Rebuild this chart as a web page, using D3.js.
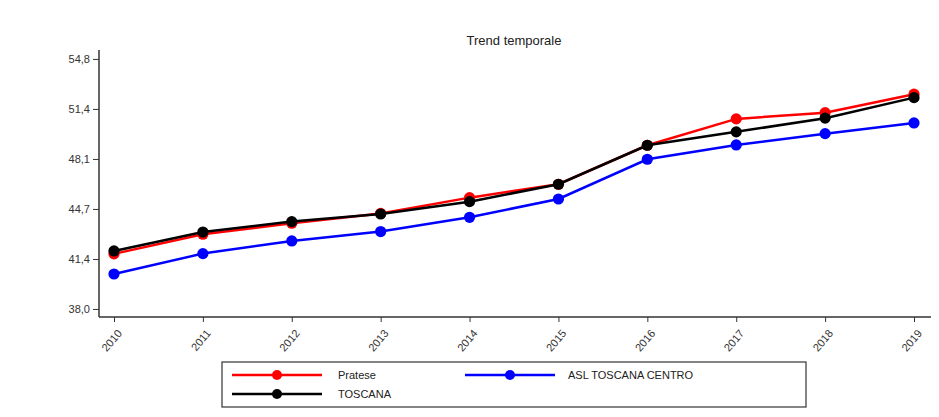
<!DOCTYPE html>
<html><head><meta charset="utf-8">
<script src="https://cdn.jsdelivr.net/npm/d3@7"></script>
<style>body{margin:0;background:#fff;} svg{display:block;font-family:"Liberation Sans",Arial,sans-serif;}</style>
</head><body>
<svg id="c" width="939" height="417"></svg>
<script>
const years = [2010,2011,2012,2013,2014,2015,2016,2017,2018,2019];
const pratese = [41.70,43.02,43.76,44.42,45.48,46.38,49.00,50.77,51.19,52.43];
const aslCentro = [40.35,41.72,42.57,43.20,44.16,45.39,48.06,49.02,49.78,50.50];
const toscana = [41.90,43.17,43.87,44.38,45.21,46.38,49.00,49.90,50.82,52.20];
const yTicks = [38.0,41.36,44.72,48.08,51.44,54.8];
const seriesNames = ["Pratese","ASL TOSCANA CENTRO","TOSCANA"];
const seriesColors = ["#ff0000","#0000ff","#000000"];

const svg = d3.select("#c");
const x = d3.scalePoint().domain(years).range([114,914]);
const y = d3.scaleLinear().domain([37.46,55.4]).range([317,50]);
const fmt = v => d3.format(".1f")(v).replace(".", ",");

// title
svg.append("text").attr("x",514).attr("y",45).attr("text-anchor","middle")
  .attr("font-size",13).attr("fill","#222").text("Trend temporale");

// y axis
const ya = svg.append("g").attr("transform","translate(99,0)")
  .call(d3.axisLeft(y).tickValues(yTicks).tickFormat(fmt).tickSize(6).tickPadding(3));
ya.select(".domain").attr("d","M0,50V317").attr("stroke","#333").attr("stroke-width",1.5);
ya.selectAll(".tick line").attr("stroke","#333");
ya.selectAll(".tick text").attr("font-size",11).attr("fill","#333").attr("font-family","Liberation Sans, Arial, sans-serif");

// x axis
const xa = svg.append("g").attr("transform","translate(0,317)")
  .call(d3.axisBottom(x).tickSize(5).tickSizeOuter(0));
xa.select(".domain").attr("d","M99,0H931").attr("stroke","#333").attr("stroke-width",1.5);
xa.selectAll(".tick line").attr("stroke","#333");
xa.selectAll(".tick text").attr("font-size",11).attr("fill","#333")
  .attr("font-family","Liberation Sans, Arial, sans-serif")
  .attr("text-anchor","end").attr("dy","0.35em")
  .attr("transform","translate(-1,9) rotate(-50)");

// series (draw order: red, blue, black on top)
const allData = [pratese, aslCentro, toscana];
const line = d3.line().x((d,i)=>x(years[i])).y(d=>y(d));
allData.forEach((vals,k)=>{
  const g = svg.append("g");
  g.append("path").datum(vals).attr("d",line).attr("fill","none")
    .attr("stroke",seriesColors[k]).attr("stroke-width",2.5);
  g.selectAll("circle").data(vals).join("circle")
    .attr("cx",(d,i)=>x(years[i])).attr("cy",d=>y(d)).attr("r",5.6)
    .attr("fill",seriesColors[k]);
});

// legend
const lg = svg.append("g");
lg.append("rect").attr("x",222).attr("y",362).attr("width",584).attr("height",45)
  .attr("fill","#fff").attr("stroke","#333").attr("stroke-width",1.2);
const legPos = [{x1:232,y:375,tx:338},{x1:465,y:375,tx:568},{x1:232,y:394,tx:338}];
legPos.forEach((p,k)=>{
  lg.append("line").attr("x1",p.x1).attr("x2",p.x1+90).attr("y1",p.y).attr("y2",p.y)
    .attr("stroke",seriesColors[k]).attr("stroke-width",2.5);
  lg.append("circle").attr("cx",p.x1+45).attr("cy",p.y).attr("r",5).attr("fill",seriesColors[k]);
  lg.append("text").attr("x",p.tx).attr("y",p.y+4).attr("font-size",11).attr("fill","#222").text(seriesNames[k]);
});
</script>
</body></html>
